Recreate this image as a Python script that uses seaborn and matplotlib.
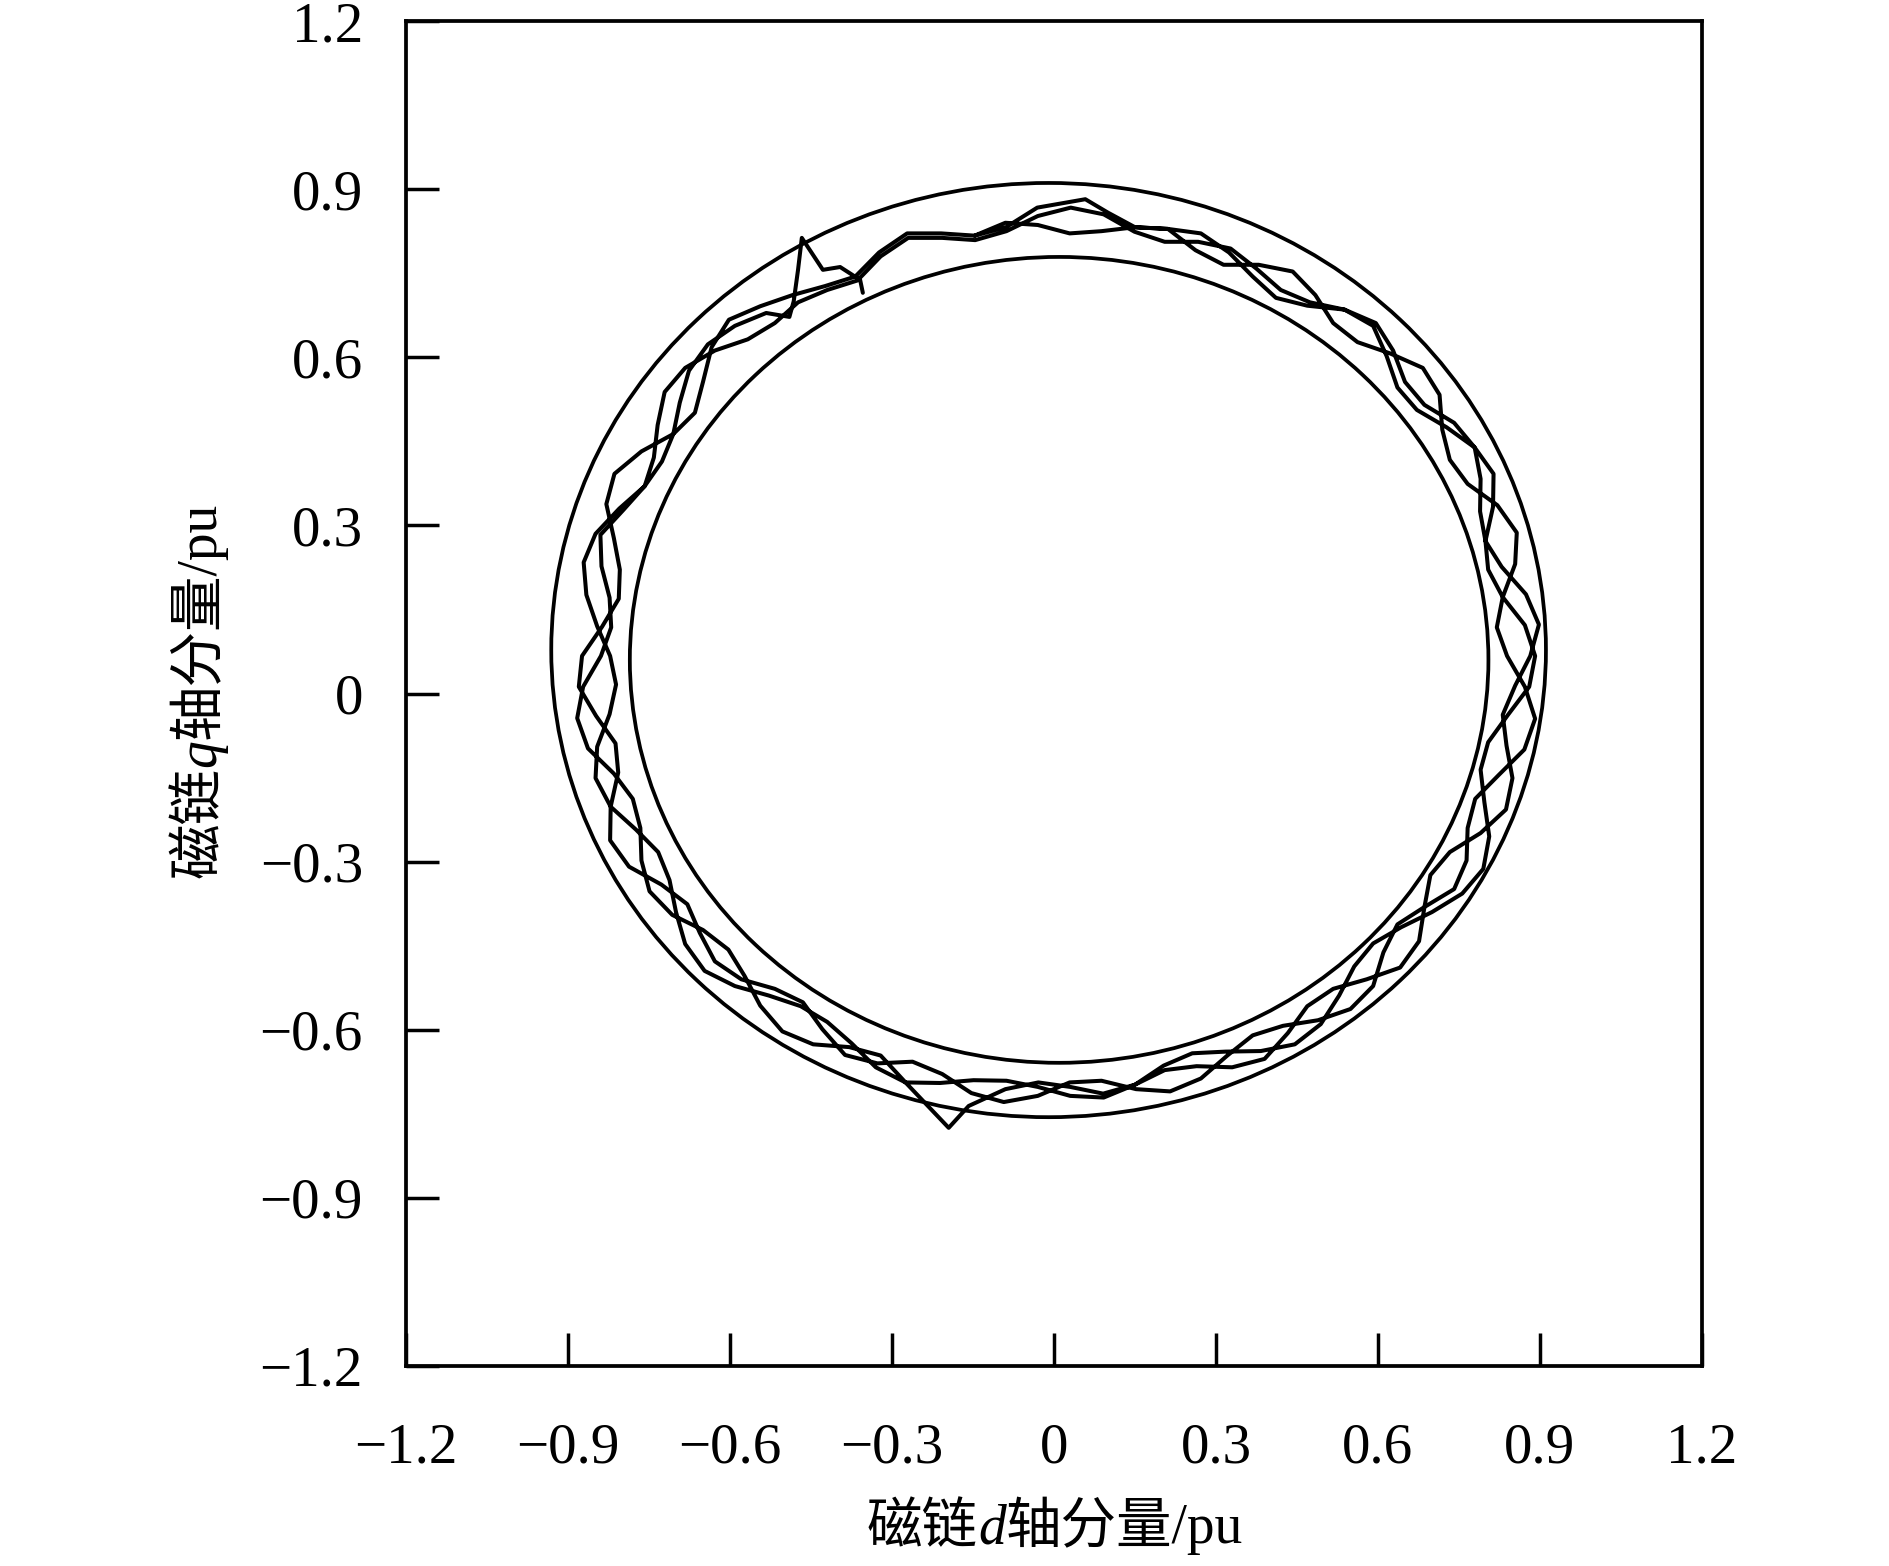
import numpy as np
import pandas as pd
import matplotlib
matplotlib.use("Agg")
import matplotlib.pyplot as plt
import seaborn as sns
from matplotlib.patches import Ellipse
from matplotlib.transforms import IdentityTransform

# ---------------- data ----------------
tick_values = [-1.2, -0.9, -0.6, -0.3, 0.0, 0.3, 0.6, 0.9, 1.2]
tick_labels = ["−1.2", "−0.9", "−0.6", "−0.3", "0", "0.3", "0.6", "0.9", "1.2"]

# limit rings (centre, width, height) in pu
outer_center = (-0.010, 0.0775)
outer_size = (1.842, 1.667)
inner_center = (0.0095, 0.060)
inner_size = (1.590, 1.438)

# flux trajectory: start transient (spike at top-left)
start_d = [-0.354, -0.359, -0.396, -0.428, -0.467, -0.474, -0.482, -0.490]
start_q = [0.715, 0.738, 0.761, 0.756, 0.813, 0.756, 0.700, 0.672]

lap1_d = [-0.533, -0.591, -0.641, -0.676, -0.693, -0.705, -0.726, -0.758, -0.805, -0.849,
          -0.871, -0.866, -0.846, -0.822, -0.811, -0.823, -0.846, -0.849, -0.821, -0.774,
          -0.733, -0.712, -0.700, -0.683, -0.647, -0.591, -0.528, -0.469, -0.420, -0.375,
          -0.330, -0.275, -0.211, -0.149, -0.088, -0.030, 0.030, 0.092, 0.150, 0.203,
          0.256, 0.318, 0.383, 0.446, 0.494, 0.528, 0.556, 0.591, 0.643, 0.700,
          0.756, 0.795, 0.806, 0.797, 0.790, 0.804, 0.840, 0.880, 0.891, 0.872,
          0.831, 0.804, 0.799, 0.813, 0.814, 0.779, 0.727, 0.672, 0.636, 0.616,
          0.591, 0.538, 0.474, 0.420, 0.375, 0.327, 0.267, 0.205, 0.149, 0.092,
          0.031, -0.030, -0.088, -0.146, -0.207, -0.270, -0.321, -0.364, -0.420]
lap1_q = [0.679, 0.656, 0.623, 0.576, 0.519, 0.463, 0.414, 0.370, 0.330, 0.285,
          0.234, 0.176, 0.120, 0.067, 0.016, -0.037, -0.095, -0.151, -0.202, -0.243,
          -0.283, -0.333, -0.390, -0.447, -0.495, -0.522, -0.539, -0.558, -0.586, -0.624,
          -0.667, -0.694, -0.695, -0.690, -0.691, -0.702, -0.718, -0.721, -0.698, -0.664,
          -0.642, -0.639, -0.638, -0.626, -0.590, -0.539, -0.487, -0.446, -0.417, -0.390,
          -0.357, -0.313, -0.255, -0.194, -0.136, -0.087, -0.039, 0.012, 0.067, 0.122,
          0.172, 0.221, 0.272, 0.333, 0.392, 0.439, 0.475, 0.506, 0.546, 0.602,
          0.656, 0.685, 0.698, 0.720, 0.758, 0.794, 0.806, 0.806, 0.824, 0.855,
          0.867, 0.852, 0.825, 0.809, 0.813, 0.813, 0.780, 0.737, 0.720]

lap2_d = [-0.474, -0.517, -0.567, -0.628, -0.683, -0.721, -0.734, -0.741, -0.758, -0.797,
          -0.840, -0.838, -0.823, -0.820, -0.839, -0.872, -0.883, -0.863, -0.815, -0.780,
          -0.766, -0.764, -0.749, -0.707, -0.650, -0.603, -0.573, -0.544, -0.503, -0.446,
          -0.379, -0.321, -0.275, -0.195, -0.158, -0.090, -0.029, 0.030, 0.091, 0.150,
          0.205, 0.264, 0.330, 0.390, 0.433, 0.469, 0.517, 0.579, 0.641, 0.676,
          0.686, 0.697, 0.733, 0.790, 0.837, 0.849, 0.838, 0.831, 0.854, 0.882,
          0.898, 0.874, 0.829, 0.799, 0.789, 0.790, 0.779, 0.741, 0.686, 0.650,
          0.628, 0.596, 0.538, 0.469, 0.411, 0.368, 0.324, 0.272, 0.211, 0.150,
          0.100, 0.058, -0.031, -0.089, -0.147, -0.209, -0.272, -0.324, -0.368, -0.424,
          -0.484]
lap2_q = [0.698, 0.661, 0.632, 0.612, 0.581, 0.538, 0.479, 0.421, 0.370, 0.328,
          0.283, 0.227, 0.171, 0.118, 0.067, 0.012, -0.044, -0.098, -0.143, -0.188,
          -0.240, -0.298, -0.353, -0.395, -0.422, -0.457, -0.504, -0.557, -0.603, -0.626,
          -0.631, -0.646, -0.694, -0.775, -0.736, -0.706, -0.694, -0.702, -0.714, -0.698,
          -0.672, -0.665, -0.667, -0.652, -0.606, -0.558, -0.527, -0.510, -0.489, -0.442,
          -0.381, -0.324, -0.283, -0.249, -0.207, -0.151, -0.093, -0.038, 0.014, 0.067,
          0.123, 0.177, 0.226, 0.272, 0.325, 0.383, 0.439, 0.483, 0.515, 0.556,
          0.612, 0.661, 0.685, 0.692, 0.706, 0.744, 0.787, 0.821, 0.829, 0.832,
          0.858, 0.882, 0.867, 0.832, 0.817, 0.821, 0.821, 0.787, 0.744, 0.727,
          0.711]

lap3_d = [-0.544, -0.602, -0.634, -0.650, -0.665, -0.705, -0.764, -0.814, -0.829, -0.815,
          -0.804, -0.806, -0.837, -0.874, -0.880, -0.848, -0.812, -0.807, -0.821, -0.822,
          -0.787, -0.727, -0.679, -0.656, -0.628, -0.579, -0.517, -0.465, -0.429, -0.387,
          -0.327, -0.262, -0.207, -0.153, -0.093, -0.030, 0.029, 0.088, 0.152, 0.215,
          0.272, 0.321, 0.368, 0.424, 0.489, 0.549, 0.591, 0.610, 0.636, 0.686,
          0.741, 0.764, 0.766, 0.780, 0.824, 0.871, 0.891, 0.872, 0.839, 0.820,
          0.831, 0.854, 0.857, 0.821, 0.766, 0.733, 0.719, 0.714, 0.683, 0.622,
          0.562, 0.517, 0.484, 0.442, 0.379, 0.314, 0.262, 0.211, 0.150, 0.088,
          0.029, -0.030, -0.090, -0.147]
lap3_q = [0.691, 0.667, 0.618, 0.556, 0.501, 0.463, 0.432, 0.392, 0.338, 0.277,
          0.221, 0.169, 0.119, 0.067, 0.012, -0.040, -0.089, -0.141, -0.202, -0.262,
          -0.309, -0.341, -0.376, -0.427, -0.478, -0.510, -0.527, -0.551, -0.599, -0.645,
          -0.660, -0.657, -0.679, -0.713, -0.729, -0.718, -0.694, -0.691, -0.706, -0.710,
          -0.687, -0.646, -0.610, -0.593, -0.583, -0.563, -0.522, -0.462, -0.412, -0.381,
          -0.349, -0.298, -0.240, -0.188, -0.145, -0.100, -0.045, 0.012, 0.067, 0.118,
          0.172, 0.231, 0.287, 0.336, 0.374, 0.417, 0.471, 0.533, 0.581, 0.607,
          0.627, 0.661, 0.711, 0.753, 0.765, 0.765, 0.791, 0.829, 0.832, 0.825,
          0.821, 0.836, 0.840, 0.817]

# ---------------- styling ----------------
sns.set_theme(style="ticks")
plt.rcParams["font.family"] = ["Liberation Serif", "Noto Sans CJK SC"]
plt.rcParams["axes.unicode_minus"] = True

traj = pd.DataFrame({
    "d": np.concatenate([start_d, lap1_d, lap2_d, lap3_d]),
    "q": np.concatenate([start_q, lap1_q, lap2_q, lap3_q]),
})

fig = plt.figure(figsize=(18.9, 15.66), dpi=100)
ax = fig.add_axes([406 / 1890, 1 - 1366 / 1566, 1296 / 1890, 1345 / 1566])

sns.lineplot(data=traj, x="d", y="q", sort=False, estimator=None,
             color="black", linewidth=2.9, ax=ax)

for c, (w, h) in [(outer_center, outer_size), (inner_center, inner_size)]:
    ax.add_patch(Ellipse(c, w, h, fill=False, edgecolor="black", linewidth=2.7))

ax.set_xlim(-1.2, 1.2)
ax.set_ylim(-1.2, 1.2)
ax.set_xticks(tick_values)
ax.set_xticklabels(tick_labels)
ax.set_yticks(tick_values)
ax.set_yticklabels(tick_labels)
ax.set_xlabel("")
ax.set_ylabel("")
ax.tick_params(axis="both", direction="in", length=24, width=2.5,
               labelsize=41, colors="black", top=False, right=False)
ax.tick_params(axis="x", pad=41)
ax.tick_params(axis="y", pad=31)
for sp in ax.spines.values():
    sp.set_visible(True)
    sp.set_color("black")
    sp.set_linewidth(2.7)


def mixed_label(pieces, along_center, baseline, rotation):
    renderer = fig.canvas.get_renderer()
    objs = []
    for s, kw in pieces:
        t = fig.text(0, 0, s, transform=IdentityTransform(), rotation=rotation,
                     rotation_mode="anchor", ha="left", va="baseline",
                     fontsize=40, color="black", **kw)
        objs.append(t)
    lens = []
    for t in objs:
        bb = t.get_window_extent(renderer)
        lens.append(bb.width if rotation == 0 else bb.height)
    pos = along_center - sum(lens) / 2
    for t, L in zip(objs, lens):
        if rotation == 0:
            t.set_position((pos, baseline))
        else:
            t.set_position((baseline, pos))
        pos += L


cjk = {"family": ["Liberation Serif", "Noto Sans CJK SC"]}
ital = {"family": ["Liberation Serif"], "style": "italic"}
mixed_label([("磁链", cjk), ("d", ital), ("轴分量/pu", cjk)], 1055, 1566 - 1543, 0)
mixed_label([("磁链", cjk), ("q", ital), ("轴分量/pu", cjk)], 1566 - 690, 215, 90)

fig.savefig("out.png", dpi=100)
